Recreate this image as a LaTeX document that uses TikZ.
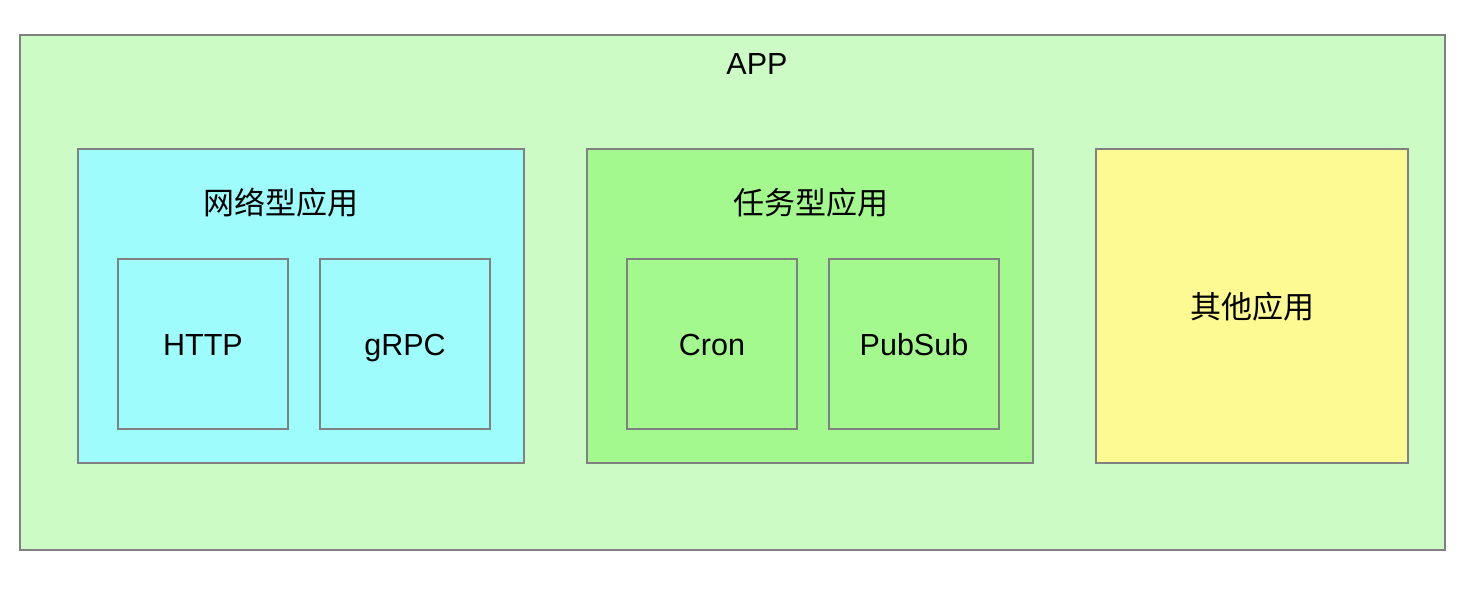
\documentclass[tikz,border=0pt]{standalone}
\usepackage{fontspec}
\setmainfont{Liberation Sans}
\newfontfamily\cjk{Noto Sans CJK SC}
\definecolor{appfill}{HTML}{CDFBC6}
\definecolor{netfill}{HTML}{9FFCFC}
\definecolor{taskfill}{HTML}{A4F98E}
\definecolor{otherfill}{HTML}{FEFA93}
\definecolor{framegray}{HTML}{808080}
\begin{document}
\begin{tikzpicture}[x=1pt,y=-1pt,
  boxstyle/.style={draw=framegray,line width=2pt,inner sep=0pt,rectangle},
  smallbox/.style={boxstyle,minimum width=170pt,minimum height=170pt,
    font=\fontsize{30.5}{36}\selectfont,text height=22pt,text depth=0pt},
  lbl/.style={inner sep=0pt,font=\fontsize{30.5}{36}\selectfont},
  cjklbl/.style={inner sep=0pt,font=\fontsize{31}{36}\selectfont\cjk}]
\useasboundingbox (0,0) rectangle (1476,594);
\node[boxstyle,fill=appfill,minimum width=1425pt,minimum height=515pt] (app) at (732.5,292.5) {};
\node[lbl] (apptitle) at (757,64) {APP};
\node[boxstyle,fill=netfill,minimum width=446pt,minimum height=314pt] (net) at (301,306) {};
\node[cjklbl] (nettitle) at (281,203) {网络型应用};
\node[smallbox,fill=netfill] (http) at (203,344) {HTTP};
\node[smallbox,fill=netfill] (grpc) at (405,344) {gRPC};
\node[boxstyle,fill=taskfill,minimum width=446pt,minimum height=314pt] (task) at (810,306) {};
\node[cjklbl] (tasktitle) at (811,203) {任务型应用};
\node[smallbox,fill=taskfill] (cron) at (712,344) {Cron};
\node[smallbox,fill=taskfill] (pubsub) at (914,344) {PubSub};
\node[boxstyle,fill=otherfill,minimum width=312pt,minimum height=314pt] (other) at (1252,306) {};
\node[cjklbl] (othertitle) at (1252,307) {其他应用};
\end{tikzpicture}
\end{document}
